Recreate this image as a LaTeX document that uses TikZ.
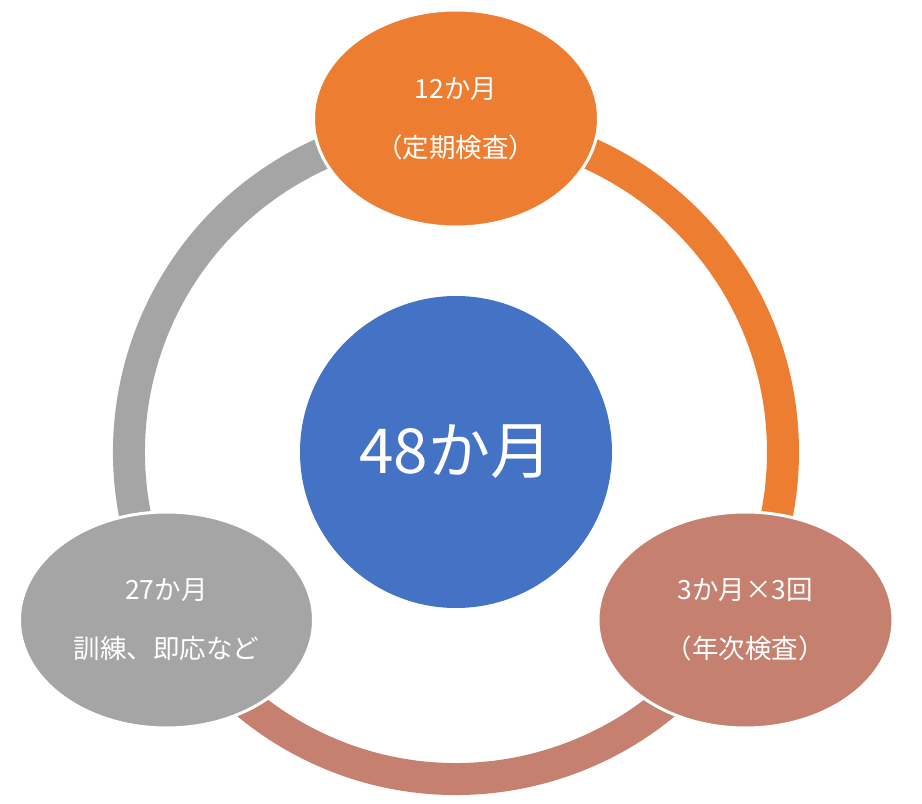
\documentclass[tikz,border=0pt]{standalone}
\usepackage{fontspec}
\newfontfamily\jpfont{Noto Sans CJK JP}
\usepackage{tikz}
\usetikzlibrary{shapes.geometric}
\definecolor{accOrange}{HTML}{ED7D31}
\definecolor{accBlue}{HTML}{4472C4}
\definecolor{accGray}{HTML}{A5A5A5}
\definecolor{accRose}{HTML}{C5806F}
\tikzset{
    phase/.style={ellipse, draw=white, line width=3pt, inner sep=0pt,
        text=white, align=center, font=\jpfont\fontsize{26.5}{59}\selectfont},
    ringseg/.style={line width=32pt}
}
\begin{document}
\begin{tikzpicture}[x=1pt,y=1pt]
\useasboundingbox (-456,-352) rectangle (466,452);
\coordinate (c) at (0,0);

% ring
\draw[ringseg, accOrange] (c) ++(90:327) arc[start angle=90, end angle=-30, radius=327pt];
\draw[ringseg, accRose] (c) ++(-30:327) arc[start angle=-30, end angle=-150, radius=327pt];
\draw[ringseg, accGray] (c) ++(210:327) arc[start angle=210, end angle=90, radius=327pt];

% centre
\node[circle, fill=accBlue, minimum size=312pt, inner sep=0pt, text=white,
    font=\jpfont\fontsize{62}{70}\selectfont] (zentai) at (c) {48か月};

% phases
\node[phase, fill=accOrange, minimum width=285pt, minimum height=217pt] (teiki) at (0,333.5) {12か月\\（定期検査）};
\node[phase, fill=accRose, minimum width=295pt, minimum height=216pt] (nenji) at (289.5,-168) {3か月×3回\\（年次検査）};
\node[phase, fill=accGray, minimum width=294pt, minimum height=216pt] (kunren) at (-289.5,-168) {27か月\\訓練、即応など};
\end{tikzpicture}
\end{document}
